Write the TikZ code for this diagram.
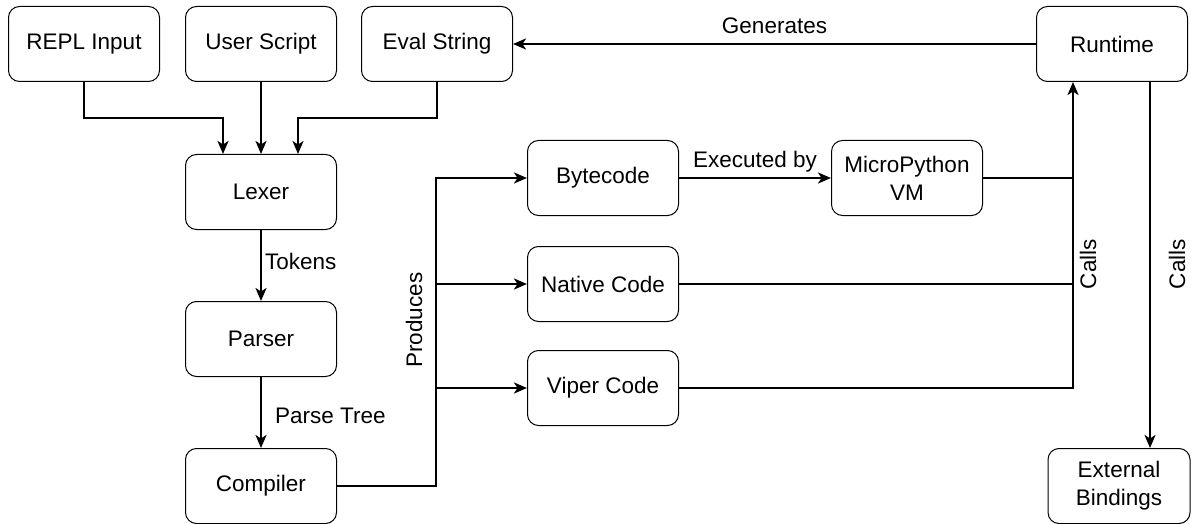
\documentclass[tikz,border=0pt]{standalone}
\usepackage{fontspec}
\setmainfont{Liberation Sans}
\usetikzlibrary{arrows.meta,calc}

\tikzset{
  box/.style={draw, rounded corners=11pt, minimum width=151pt, minimum height=75pt,
    line width=1pt, align=center, fill=white, inner sep=2pt,
    font=\fontsize{22.5}{28}\selectfont},
  wire/.style={line width=2.2pt},
  arr/.style={wire, -{Stealth[length=13pt,width=11pt,inset=3.5pt]}},
  lbl/.style={font=\fontsize{22.5}{28}\selectfont, inner sep=1pt}
}

\begin{document}
\begin{tikzpicture}[x=1pt,y=1pt]
\useasboundingbox (0,0) rectangle (1192,-524);

% sources
\node[box] (repl)    at (84,-44)   {REPL Input};
\node[box] (user)    at (261,-44)  {User Script};
\node[box] (eval)    at (437,-44)  {Eval String};
\node[box] (runtime) at (1112,-44) {Runtime};

% front end
\node[box] (lexer)    at (261,-192) {Lexer};
\node[box] (parser)   at (261,-339) {Parser};
\node[box] (compiler) at (261,-486) {Compiler};

% code kinds
\node[box] (bytecode) at (603,-178) {Bytecode};
\node[box] (vm)       at (907,-178) {MicroPython\\VM};
\node[box] (native)   at (603,-284) {Native Code};
\node[box] (viper)    at (603,-388) {Viper Code};

\node[box, minimum width=142pt] (ext) at (1119,-486) {External\\Bindings};

% bus columns
\coordinate (busx)  at (436,0);
\coordinate (callx) at (1073,0);

% inputs to lexer
\draw[arr] (repl.south) -- ++(0,-36) -| ([xshift=-38pt]lexer.north);
\draw[arr] (user.south) -- (lexer.north);
\draw[arr] (eval.south) -- ++(0,-36) -| ([xshift=37pt]lexer.north);

% pipeline
\draw[arr] (lexer.south) -- node[lbl, right=2pt, pos=0.45] {Tokens} (parser.north);
\draw[arr] (parser.south) -- node[lbl, right=12pt, pos=0.55] {Parse Tree} (compiler.north);

% compiler outputs
\draw[arr] (compiler.east) -- (compiler.east -| busx) |- (bytecode.west);
\draw[arr] (native.west -| busx) -- (native.west);
\draw[arr] (viper.west -| busx) -- (viper.west);
\node[lbl, rotate=90] (produces) at (414,-320) {Produces};

\draw[arr] (bytecode.east) -- node[lbl, above=4pt] {Executed by} (vm.west);

% calls into runtime
\draw[wire] (vm.east) -- (vm.east -| callx);
\draw[wire] (native.east) -- (native.east -| callx);
\draw[arr] (viper.east) -| ([xshift=-39pt]runtime.south);
\node[lbl, rotate=90] (calls1) at (1088,-264) {Calls};

% runtime to bindings
\draw[arr] ([xshift=38pt]runtime.south) -- ([xshift=38pt]runtime.south |- ext.north);
\node[lbl, rotate=90] (calls2) at (1177,-264) {Calls};

% runtime generates eval strings
\draw[arr] (runtime.west) -- node[lbl, above=8pt] {Generates} (eval.east);
\end{tikzpicture}
\end{document}
